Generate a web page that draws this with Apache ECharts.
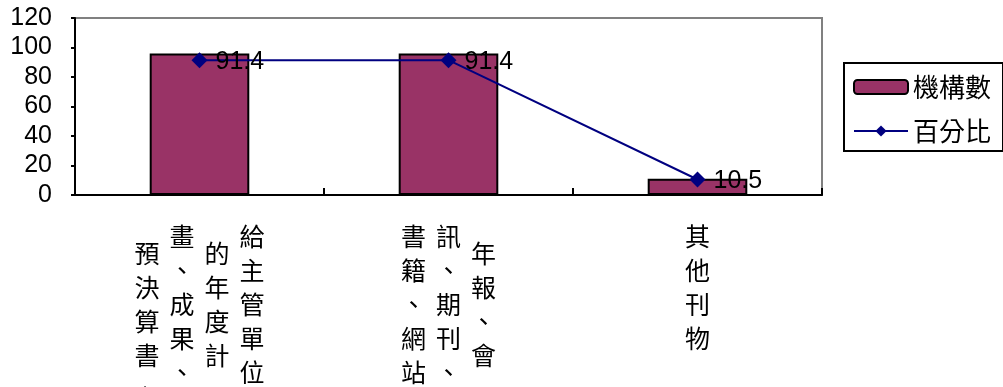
<!DOCTYPE html>
<html>
<head>
<meta charset="utf-8">
<script src="https://cdn.jsdelivr.net/npm/echarts@6/dist/echarts.min.js"></script>
<style>
html,body{margin:0;padding:0;background:#fff;}
#c{width:1003px;height:387px;}
</style>
</head>
<body>
<div id="c"></div>
<script>
// ---- data ----
const categories = ['給主管單位的年度計畫、成果、預決算書、', '年報、會訊、期刊、書籍、網站、', '其他刊物'];
// the visible vertical columns of each category label, in reading order (right to left)
const labelColumns = [
  ['給主管單位', '的年度計', '畫、成果、', '預決算書、'],
  ['年報、會', '訊、期刊、', '書籍、網站、'],
  ['其他刊物']
];
const countValues = [96, 96, 11];      // 機構數
const percentValues = [91.4, 91.4, 10.5]; // 百分比
const yTicks = [0, 20, 40, 60, 80, 100, 120];
const seriesNames = ['機構數', '百分比'];

// ---- layout (half-row start offsets of each column) ----
const columnStart = [[0, 1, 0, 1], [1, 0, 0], [0]];

function buildLabel(idx) {
  const cols = labelColumns[idx];
  const offs = columnStart[idx];
  let rows = 0;
  cols.forEach((c, i) => { rows = Math.max(rows, offs[i] + 2 * c.length); });
  const lines = [];
  for (let r = 0; r < rows; r++) {
    const toks = [];
    for (let i = cols.length - 1; i >= 0; i--) {
      const d = r - offs[i];
      if (d >= 0 && d % 2 === 0 && d / 2 < cols[i].length) {
        toks.push('{c|' + cols[i][d / 2] + '}');
      } else {
        toks.push('{b| }');
      }
    }
    lines.push(toks.join(''));
  }
  return lines.join('\n');
}

const chart = echarts.init(document.getElementById('c'), null, {renderer: 'canvas'});
const cjk = '"Noto Sans CJK TC", "Noto Sans CJK SC", sans-serif';
const latin = '"Liberation Sans", Arial, sans-serif';

chart.setOption({
  animation: false,
  backgroundColor: '#fff',
  grid: {
    left: 75, top: 18, right: 181, bottom: 192,
    containLabel: false, outerBoundsMode: 'none',
    show: true, borderColor: '#808080', borderWidth: 2, backgroundColor: 'transparent'
  },
  legend: {
    orient: 'vertical',
    left: 844, top: 63,
    data: seriesNames,
    borderColor: '#000', borderWidth: 2,
    padding: [9, 12, 5, 9],
    itemWidth: 54, itemHeight: 14, itemGap: 14,
    textStyle: {fontSize: 26, fontFamily: cjk, color: '#000', lineHeight: 30}
  },
  xAxis: {
    type: 'category',
    data: categories,
    axisLine: {lineStyle: {color: '#000', width: 2}},
    axisTick: {show: true, inside: true, length: 7, lineStyle: {color: '#000', width: 2}},
    axisLabel: {
      interval: 0, margin: 33, hideOverlap: false,
      formatter: (v, i) => buildLabel(i),
      rich: {
        c: {fontSize: 25, fontFamily: cjk, color: '#000', width: 35, align: 'center', lineHeight: 17},
        b: {fontSize: 25, fontFamily: cjk, width: 35, align: 'center', lineHeight: 17}
      }
    }
  },
  yAxis: {
    type: 'value',
    min: 0, max: 120, interval: 20,
    axisLine: {show: true, lineStyle: {color: '#000', width: 2}},
    axisTick: {show: true, length: 4, lineStyle: {color: '#000', width: 2}},
    splitLine: {show: false},
    axisLabel: {
      margin: 23, fontSize: 25, fontFamily: latin, color: '#000', hideOverlap: false,
      showMinLabel: true, showMaxLabel: true,
      formatter: v => (yTicks.indexOf(v) >= 0 ? String(v) : '')
    }
  },
  series: [
    {
      name: seriesNames[0], type: 'bar', data: countValues, barWidth: '40%',
      itemStyle: {color: '#993366', borderColor: '#000', borderWidth: 2}
    },
    {
      name: seriesNames[1], type: 'line', data: percentValues,
      symbol: 'diamond', symbolSize: 16,
      itemStyle: {color: '#000080'},
      lineStyle: {color: '#000080', width: 2},
      label: {show: true, position: 'right', distance: 8, offset: [0, 2], fontSize: 25, fontFamily: latin, color: '#000'}
    }
  ]
});
</script>
</body>
</html>
